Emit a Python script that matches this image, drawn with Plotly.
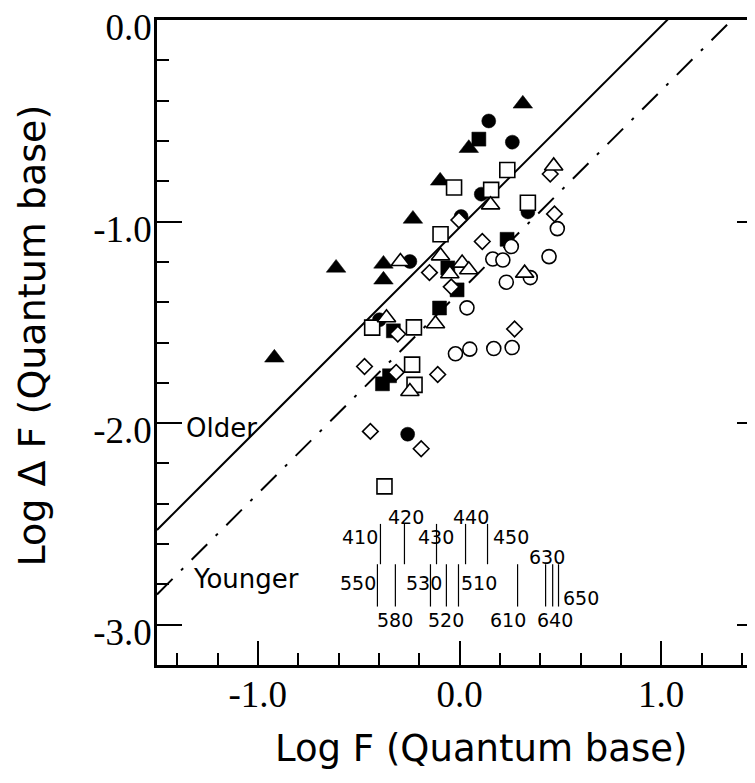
import plotly.graph_objects as go

# ---------------- data ----------------
filled_tri_x = [0.314, 0.046, -0.096, -0.231, -0.377, -0.612, -0.377, -0.918]
filled_tri_y = [-0.416, -0.636, -0.798, -0.987, -1.210, -1.230, -1.289, -1.676]

filled_circ_x = [0.145, 0.262, 0.108, 0.008, 0.339, -0.246, -0.397, -0.257]
filled_circ_y = [-0.501, -0.606, -0.864, -0.975, -0.952, -1.198, -1.487, -2.055]

filled_sq_x = [0.096, 0.236, -0.058, -0.012, -0.099, -0.328, -0.382, -0.347]
filled_sq_y = [-0.591, -1.088, -1.230, -1.339, -1.429, -1.542, -1.805, -1.765]

open_tri_x = [0.467, 0.154, -0.094, -0.293, 0.013, 0.046, -0.048, 0.323, -0.119, -0.362, -0.246]
open_tri_y = [-0.724, -0.917, -1.170, -1.198, -1.206, -1.239, -1.259, -1.256, -1.507, -1.477, -1.843]

open_sq_x = [-0.094, -0.027, 0.157, 0.237, 0.339, -0.433, -0.226, -0.235, -0.223, -0.372]
open_sq_y = [-1.063, -0.831, -0.843, -0.744, -0.907, -1.526, -1.525, -1.710, -1.810, -2.314]

open_dia_x = [0.450, -0.003, 0.471, 0.113, -0.149, -0.041, -0.306, 0.273, -0.471, -0.314, -0.108, -0.442, -0.190]
open_dia_y = [-0.764, -0.992, -0.962, -1.099, -1.253, -1.324, -1.558, -1.533, -1.719, -1.748, -1.759, -2.041, -2.127]

open_circ_x = [0.485, 0.257, 0.165, 0.215, 0.444, 0.351, 0.232, 0.037, -0.020, 0.051, 0.170, 0.261]
open_circ_y = [-1.035, -1.124, -1.186, -1.191, -1.174, -1.278, -1.301, -1.428, -1.656, -1.633, -1.630, -1.625]

# boundary lines  (log dF = slope * log F + intercept)
line_labels = ["Older", "Younger"]
line_slope = [1.0, 1.0]
line_intercept = [-1.03, -1.35]

# wavelength markers (nm) and their log F positions; row 0 = upper, 1 = lower
wl_labels = ["410", "420", "430", "440", "450",
             "550", "580", "530", "520", "510", "610", "630", "640", "650"]
wl_x = [-0.392, -0.273, -0.114, 0.030, 0.139,
        -0.407, -0.318, -0.144, -0.065, -0.005, 0.288, 0.427, 0.462, 0.491]
wl_row = [0, 0, 0, 0, 0, 1, 1, 1, 1, 1, 1, 1, 1, 1]

x_ticks = [-1.0, 0.0, 1.0]
x_ticktext = ["-1.0", "0.0", "1.0"]
y_ticks = [0.0, -1.0, -2.0, -3.0]
y_ticktext = ["0.0", "-1.0", "-2.0", "-3.0"]

# ---------------- layout constants ----------------
X_RANGE = [-1.5, 1.5]
Y_RANGE = [-3.2, 0.0]
ROW_SPAN = {0: (-2.50, -2.70), 1: (-2.70, -2.91)}
# label placement (data coords) for each wavelength label
wl_label_pos = {
    "410": (-0.491, -2.563), "420": (-0.263, -2.464), "430": (-0.119, -2.563),
    "440": (0.055, -2.464), "450": (0.256, -2.563), "630": (0.432, -2.662),
    "550": (-0.504, -2.791), "530": (-0.174, -2.791), "510": (0.097, -2.791),
    "650": (0.603, -2.866), "580": (-0.318, -2.975), "520": (-0.069, -2.975),
    "610": (0.241, -2.975), "640": (0.476, -2.975),
}
line_label_pos = {"Older": (-1.181, -2.023), "Younger": (-1.057, -2.771)}

fig = go.Figure()

# boundary lines
dashes = ["solid", "22px,12px,3px,12px"]
for lab, m, b, d in zip(line_labels, line_slope, line_intercept, dashes):
    xs = [X_RANGE[0], X_RANGE[1]]
    ys = [m * v + b for v in xs]
    fig.add_trace(go.Scatter(x=xs, y=ys, mode="lines",
                             line=dict(color="black", width=2, dash=d),
                             hoverinfo="skip", showlegend=False))

# wavelength ticks
wx, wy = [], []
for xv, r in zip(wl_x, wl_row):
    y0, y1 = ROW_SPAN[r]
    wx += [xv, xv, None]
    wy += [y0, y1, None]
fig.add_trace(go.Scatter(x=wx, y=wy, mode="lines",
                         line=dict(color="black", width=1.2),
                         hoverinfo="skip", showlegend=False))

def add_pts(x, y, symbol, size, filled):
    fig.add_trace(go.Scatter(
        x=x, y=y, mode="markers", showlegend=False,
        marker=dict(symbol=symbol, size=size,
                    color="black" if filled else "white",
                    line=dict(color="black", width=0.5 if filled else 1.6))))

add_pts(filled_tri_x, filled_tri_y, "triangle-up", 17, True)
add_pts(filled_circ_x, filled_circ_y, "circle", 14, True)
add_pts(filled_sq_x, filled_sq_y, "square", 14, True)
add_pts(open_circ_x, open_circ_y, "circle", 14, False)
add_pts(open_dia_x, open_dia_y, "diamond", 12, False)
add_pts(open_sq_x, open_sq_y, "square", 15, False)
add_pts(open_tri_x, open_tri_y, "triangle-up", 16, False)

annotations = []
for lab in wl_labels:
    px, py = wl_label_pos[lab]
    annotations.append(dict(x=px, y=py, xref="x", yref="y", text=lab, showarrow=False,
                            xanchor="center", yanchor="middle",
                            font=dict(family="DejaVu Sans", size=19, color="black")))
for lab in line_labels:
    px, py = line_label_pos[lab]
    annotations.append(dict(x=px, y=py, xref="x", yref="y", text=lab, showarrow=False,
                            xanchor="center", yanchor="middle",
                            font=dict(family="DejaVu Sans", size=26, color="black")))
annotations.append(dict(x=0.5355, y=-0.1287, xref="paper", yref="paper",
                        text="Log F (Quantum base)", showarrow=False,
                        xanchor="center", yanchor="middle",
                        font=dict(family="DejaVu Sans", size=37, color="black")))
annotations.append(dict(x=-0.2066, y=0.511, xref="paper", yref="paper",
                        text="Log \u0394 F (Quantum base)", showarrow=False, textangle=-90,
                        xanchor="center", yanchor="middle",
                        font=dict(family="DejaVu Sans", size=38, color="black")))

tickfont = dict(family="Liberation Serif", size=37, color="black")
# the page body adds an 8px offset; the plot frame extends just past the right window edge
fig.update_layout(
    width=760, height=775,
    margin=dict(l=149, r=6, t=12, b=118, autoexpand=False),
    paper_bgcolor="white", plot_bgcolor="white",
    annotations=annotations,
    xaxis=dict(range=X_RANGE, tickvals=x_ticks, ticktext=x_ticktext, automargin=False,
               ticks="inside", ticklen=24, tickwidth=2, tickcolor="black",
               ticklabeloverflow="allow", ticklabelstandoff=-5,
               minor=dict(dtick=0.2, tick0=0, ticks="inside", ticklen=12,
                          tickwidth=2, tickcolor="black", showgrid=False),
               showline=True, linewidth=2.5, linecolor="black", mirror=True,
               showgrid=False, zeroline=False, tickfont=tickfont),
    yaxis=dict(range=Y_RANGE, tickvals=y_ticks, ticktext=y_ticktext, automargin=False,
               ticks="inside", ticklen=25, tickwidth=2, tickcolor="black",
               ticklabeloverflow="allow", ticklabelstandoff=-5, ticklabelshift=7,
               minor=dict(dtick=0.2, tick0=0, ticks="inside", ticklen=12,
                          tickwidth=2, tickcolor="black", showgrid=False),
               showline=True, linewidth=2.5, linecolor="black", mirror="ticks",
               showgrid=False, zeroline=False, tickfont=tickfont),
)

fig.write_html("out.html")
